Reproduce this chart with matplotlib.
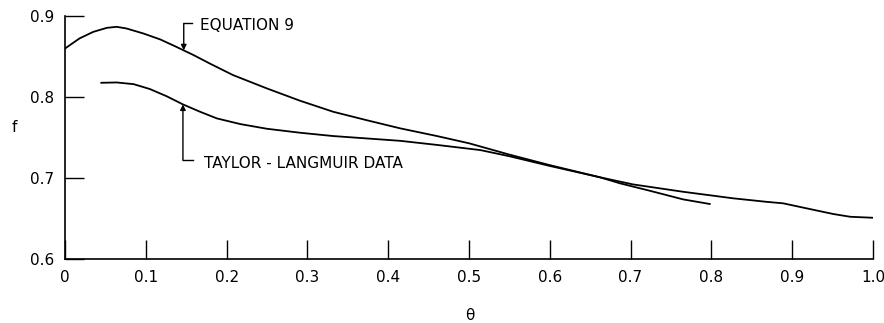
import numpy as np
import matplotlib
matplotlib.use("Agg")
import matplotlib.pyplot as plt

# values
theta_eq9 = [0.0, 0.018, 0.035, 0.052, 0.064, 0.076, 0.097, 0.118, 0.138, 0.159,
             0.179, 0.208, 0.25, 0.291, 0.332, 0.373, 0.415, 0.46, 0.50, 0.55,
             0.60, 0.662, 0.703, 0.765, 0.827, 0.868, 0.889, 0.918, 0.951,
             0.972, 1.0]
f_eq9 = [0.860, 0.8725, 0.8806, 0.8856, 0.8868, 0.8848, 0.8786, 0.8712, 0.862,
         0.852, 0.8416, 0.8272, 0.8107, 0.7955, 0.7819, 0.7716, 0.7614, 0.752,
         0.743, 0.729, 0.716, 0.701, 0.6922, 0.6831, 0.675, 0.6707, 0.6688,
         0.6626, 0.6556, 0.6522, 0.651]

theta_tl = [0.045, 0.064, 0.085, 0.105, 0.126, 0.146, 0.167, 0.188, 0.217, 0.25,
            0.291, 0.332, 0.373, 0.415, 0.46, 0.514, 0.55, 0.60, 0.662, 0.687,
            0.724, 0.765, 0.798]
f_tl = [0.8177, 0.8181, 0.816, 0.810, 0.801, 0.791, 0.782, 0.7737, 0.7667,
        0.7609, 0.756, 0.7519, 0.749, 0.746, 0.741, 0.7346, 0.727, 0.715,
        0.701, 0.6935, 0.6843, 0.6737, 0.668]

xticks = [0, 0.1, 0.2, 0.3, 0.4, 0.5, 0.6, 0.7, 0.8, 0.9, 1.0]
xticklabels = ["0", "0.1", "0.2", "0.3", "0.4", "0.5", "0.6", "0.7", "0.8", "0.9", "1.0"]
yticks = [0.6, 0.7, 0.8, 0.9]

plt.rcParams["font.family"] = ["DejaVu Sans"]

fig = plt.figure(figsize=(8.84, 3.23), dpi=100)
ax = fig.add_axes([0.0735, 0.198, 0.914, 0.752])

ax.plot(theta_eq9, f_eq9, color="black", lw=1.3, solid_joinstyle="round")
ax.plot(theta_tl, f_tl, color="black", lw=1.3, solid_joinstyle="round")

ax.set_xlim(0, 1.0)
ax.set_ylim(0.6, 0.9)
ax.spines["top"].set_visible(False)
ax.spines["right"].set_visible(False)
ax.spines["left"].set_linewidth(1.2)
ax.spines["bottom"].set_linewidth(1.2)

ax.set_xticks(xticks)
ax.set_xticklabels(xticklabels)
ax.set_yticks(yticks)
ax.set_yticklabels([f"{v:.1f}" for v in yticks])
ax.tick_params(axis="both", direction="in", length=14, width=1.0,
               labelsize=11, pad=8, color="black")

# leader for EQUATION 9
x1 = 0.147
y1 = np.interp(x1, theta_eq9, f_eq9)
ax.annotate("", xy=(x1, y1), xytext=(x1, 0.891),
            arrowprops=dict(arrowstyle="-|>", color="black", lw=1.0,
                            mutation_scale=8, shrinkA=0, shrinkB=0))
ax.plot([x1, x1 + 0.010], [0.891, 0.891], color="black", lw=1.0)
ax.text(x1 + 0.020, 0.889, "EQUATION 9", fontsize=11, va="center", ha="left")

# leader for TAYLOR - LANGMUIR DATA
x2 = 0.146
y2 = np.interp(x2, theta_tl, f_tl)
ax.annotate("", xy=(x2, y2), xytext=(x2, 0.722),
            arrowprops=dict(arrowstyle="-|>", color="black", lw=1.0,
                            mutation_scale=8, shrinkA=0, shrinkB=0))
ax.plot([x2, x2 + 0.012], [0.722, 0.722], color="black", lw=1.0)
ax.text(x2 + 0.026, 0.718, "TAYLOR - LANGMUIR DATA", fontsize=11,
        va="center", ha="left")

fig.text(14 / 884, 1 - 128 / 323, "f", fontsize=11, ha="center", va="center")
fig.text(470 / 884, 1 - 315 / 323, "θ", fontsize=11, ha="center", va="center")

fig.savefig("out.png", dpi=100)
